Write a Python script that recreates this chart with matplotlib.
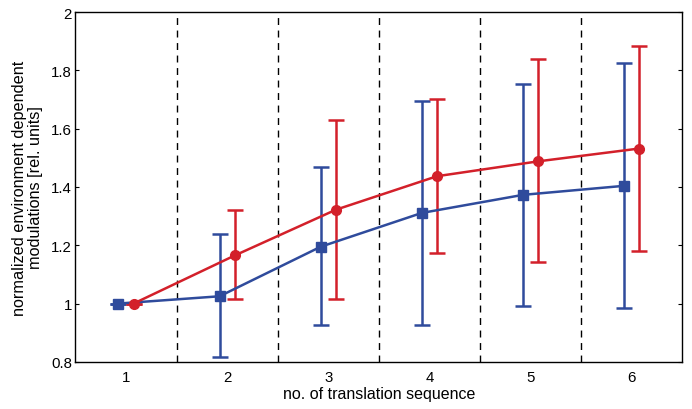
"""Environment dependent modulations vs translation sequence."""

import matplotlib
matplotlib.use("Agg")
import matplotlib.pyplot as plt
import numpy as np

plt.rcParams["font.family"] = ["Liberation Sans", "DejaVu Sans"]

sequence = [1, 2, 3, 4, 5, 6]

blue_mean = [1.0, 1.025, 1.195, 1.311, 1.373, 1.404]
blue_upper = [1.0, 1.24, 1.47, 1.696, 1.755, 1.824]
blue_lower = [1.0, 0.815, 0.925, 0.928, 0.993, 0.986]

red_mean = [1.0, 1.165, 1.322, 1.437, 1.488, 1.532]
red_upper = [1.0, 1.32, 1.63, 1.703, 1.838, 1.884]
red_lower = [1.0, 1.017, 1.017, 1.173, 1.142, 1.18]

dividers = [1.5, 2.5, 3.5, 4.5, 5.5]

BLUE = "#2f4b9c"
RED = "#d3202a"
OFFSET = 0.075


def _draw(ax, x, mean, lower, upper, color, marker):
    mean = np.asarray(mean)
    err = [mean - np.asarray(lower), np.asarray(upper) - mean]
    ax.errorbar(x, mean, yerr=err, color=color, marker=marker, markersize=7,
                linewidth=1.8, elinewidth=1.8, capsize=5.5, capthick=1.8, zorder=3)


fig, ax = plt.subplots(figsize=(6.92, 4.10), dpi=100)
fig.subplots_adjust(left=0.109, right=0.986, top=0.968, bottom=0.115)

x = np.asarray(sequence, dtype=float)
for d in dividers:
    ax.axvline(d, color="black", linestyle=(0, (5, 4)), linewidth=1.0, zorder=1)

_draw(ax, x - OFFSET, blue_mean, blue_lower, blue_upper, BLUE, "s")
_draw(ax, x + OFFSET, red_mean, red_lower, red_upper, RED, "o")

ax.set_xlim(0.5, 6.5)
ax.set_ylim(0.8, 2.0)
ax.set_xticks(sequence)
yt = [0.8, 1.0, 1.2, 1.4, 1.6, 1.8, 2.0]
ax.set_yticks(yt)
ax.set_yticklabels(["0.8", "1", "1.2", "1.4", "1.6", "1.8", "2"])
ax.tick_params(direction="in", right=True, top=False, length=3, labelsize=10.8, pad=2.5)
ax.tick_params(axis="x", length=0, pad=6)
for s in ax.spines.values():
    s.set_linewidth(1.0)

ax.set_xlabel("no. of translation sequence", fontsize=11.5, labelpad=1)
ax.set_ylabel("normalized environment dependent\nmodulations [rel. units]",
              fontsize=11.7, linespacing=1.1, labelpad=6)

fig.savefig("out.png", dpi=100)
